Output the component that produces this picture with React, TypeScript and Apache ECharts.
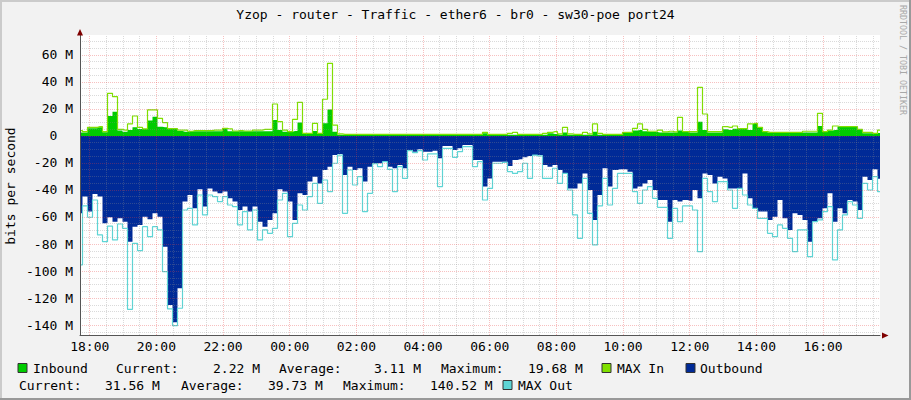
import React, { useEffect, useRef } from "react";
import * as echarts from "echarts";

// time of first sample (hours since midnight of day 1) and sample spacing (hours)
const startHour = 17.7083;
const stepHours = 0.15;

// Inbound average (M bits/s)
const inbound = [
  2.5, 2.5, 5.7, 5.7, 6.4, 2.7, 14.8, 18.0, 4.0, 3.2,
  4.4, 6.4, 5.2, 5.2, 11.4, 14.3, 6.9, 6.4, 5.4, 5.4,
  3.7, 3.2, 3.5, 3.5, 3.5, 3.5, 3.5, 3.5, 3.5, 5.7,
  3.5, 3.5, 3.5, 3.5, 3.5, 3.5, 3.5, 3.5, 3.5, 11.9,
  4.4, 3.2, 3.2, 3.7, 9.9, 2.0, 2.0, 3.7, 1.5, 9.4,
  19.68, 3.2, 1.0, 1.0, 1.0, 1.0, 1.0, 1.0, 1.0, 1.0,
  1.0, 1.0, 1.0, 1.0, 1.0, 1.0, 1.0, 1.0, 1.0, 1.0,
  1.0, 1.0, 1.0, 1.0, 1.0, 1.0, 1.0, 1.0, 1.0, 1.0,
  1.0, 2.0, 1.0, 1.0, 1.0, 1.0, 1.0, 1.0, 1.0, 1.0,
  1.0, 1.0, 1.0, 1.0, 2.0, 1.5, 1.0, 2.5, 1.0, 1.0,
  1.0, 1.0, 1.0, 3.2, 1.0, 1.0, 1.0, 1.0, 1.0, 2.5,
  2.7, 4.0, 4.4, 3.5, 3.0, 3.0, 2.5, 2.5, 2.5, 2.5,
  4.0, 3.0, 2.5, 2.5, 10.6, 4.4, 2.5, 2.5, 2.5, 4.9,
  4.4, 5.4, 5.4, 5.4, 4.4, 8.9, 6.4, 3.2, 2.5, 2.5,
  2.5, 2.5, 2.5, 2.5, 2.5, 2.5, 2.5, 2.5, 7.4, 3.2,
  4.0, 4.4, 6.9, 6.9, 6.9, 6.9, 4.9, 2.0, 2.0, 1.5,
  2.22,
];

// MAX In (M bits/s)
const maxIn = [
  4.0, 3.2, 6.4, 6.4, 6.9, 3.2, 31.6, 29.1, 4.9, 4.4,
  8.9, 14.8, 6.4, 5.2, 19.3, 19.3, 13.1, 9.9, 5.4, 5.4,
  4.4, 4.4, 3.5, 4.0, 4.0, 4.0, 4.0, 4.4, 4.4, 5.7,
  5.2, 3.7, 4.0, 3.7, 3.7, 4.4, 4.4, 4.9, 4.9, 23.7,
  10.6, 4.4, 3.2, 12.3, 24.9, 2.0, 2.0, 9.4, 2.0, 27.2,
  53.8, 8.1, 1.5, 1.2, 1.2, 1.2, 1.2, 1.2, 1.2, 1.2,
  1.2, 1.2, 1.2, 1.2, 1.2, 1.2, 1.2, 1.2, 1.2, 1.2,
  1.2, 1.2, 1.2, 1.2, 1.2, 1.2, 1.2, 1.2, 1.2, 1.2,
  1.2, 2.7, 1.2, 1.2, 1.2, 1.2, 2.0, 2.7, 1.2, 1.2,
  1.2, 1.2, 1.2, 2.0, 2.7, 3.2, 1.5, 6.4, 1.5, 1.2,
  1.2, 2.7, 1.5, 8.9, 2.0, 1.2, 1.2, 1.2, 1.2, 2.7,
  2.7, 5.7, 8.9, 4.9, 3.5, 3.5, 4.4, 3.0, 3.5, 3.0,
  13.8, 3.2, 3.2, 3.2, 36.0, 16.3, 3.2, 3.2, 3.2, 6.9,
  6.4, 7.4, 5.4, 5.4, 8.9, 9.4, 6.4, 3.2, 2.7, 2.7,
  2.7, 2.7, 2.7, 2.7, 2.7, 3.5, 3.5, 3.5, 16.8, 3.2,
  4.4, 7.4, 6.9, 6.9, 6.9, 6.9, 4.9, 2.7, 2.7, 2.0,
  4.4,
];

// Outbound average (negative, M bits/s)
const outbound = [
  -57.3, -44.9, -56.0, -43.0, -44.9, -64.7, -60.2, -63.5, -61.0, -63.5,
  -78.3, -67.2, -65.9, -59.8, -61.7, -57.3, -59.8, -82.0, -125.2, -138.0,
  -112.8, -48.6, -43.7, -53.6, -39.5, -52.3, -38.8, -41.2, -42.5, -41.2,
  -46.2, -48.6, -54.8, -52.3, -56.0, -52.3, -63.5, -67.2, -62.2, -57.3,
  -39.5, -41.2, -48.6, -62.2, -42.5, -43.7, -33.8, -30.1, -35.1, -25.2,
  -22.7, -14.1, -13.3, -28.9, -22.7, -25.2, -23.9, -33.8, -22.7, -20.2,
  -20.2, -19.0, -22.7, -23.9, -21.5, -23.9, -10.4, -11.6, -9.9, -11.6,
  -11.6, -10.9, -16.5, -7.4, -7.4, -10.4, -9.1, -6.7, -6.7, -17.8,
  -17.8, -37.5, -31.4, -19.0, -19.0, -19.0, -22.2, -17.8, -17.3, -15.8,
  -14.8, -14.1, -14.1, -21.5, -22.7, -21.5, -25.2, -27.7, -38.8, -38.8,
  -35.1, -27.7, -40.0, -62.2, -43.7, -23.9, -37.5, -25.2, -24.7, -24.7,
  -26.4, -38.8, -37.5, -35.1, -32.6, -40.0, -47.4, -47.4, -63.5, -47.4,
  -48.6, -47.4, -47.9, -40.0, -46.2, -27.7, -28.9, -35.1, -30.1, -31.4,
  -38.8, -38.8, -38.8, -27.7, -46.2, -53.6, -56.0, -56.0, -62.2, -59.8,
  -47.4, -61.0, -69.6, -57.3, -58.5, -62.2, -78.3, -63.5, -61.0, -53.6,
  -42.5, -63.5, -53.6, -57.3, -47.4, -48.6, -54.8, -30.1, -32.6, -24.7,
  -31.6,
];

// MAX Out (negative, M bits/s)
const maxOut = [
  -95.5, -51.8, -60.2, -47.4, -73.3, -78.3, -66.7, -77.0, -65.2, -68.4,
  -128.4, -79.5, -84.9, -67.2, -74.6, -67.2, -69.6, -100.5, -128.0, -140.5,
  -127.6, -54.8, -53.6, -65.9, -43.7, -58.5, -43.7, -44.9, -48.6, -44.9,
  -51.1, -52.3, -65.9, -56.0, -69.6, -54.8, -77.0, -69.6, -72.1, -68.4,
  -47.4, -42.5, -74.6, -64.7, -51.1, -54.8, -44.9, -35.1, -49.9, -32.6,
  -41.2, -20.2, -14.1, -57.3, -25.2, -36.3, -30.1, -56.0, -42.5, -20.5,
  -22.7, -19.0, -24.7, -41.2, -22.7, -31.4, -10.9, -12.3, -10.9, -17.8,
  -13.3, -13.3, -37.5, -9.1, -9.1, -15.8, -11.6, -7.9, -7.9, -22.7,
  -19.0, -47.4, -38.8, -20.2, -20.2, -19.5, -26.4, -27.7, -26.4, -20.2,
  -31.4, -14.1, -14.8, -31.4, -31.4, -23.9, -35.1, -27.7, -40.0, -58.5,
  -75.8, -31.4, -57.3, -80.7, -51.8, -31.4, -51.1, -38.8, -27.7, -27.7,
  -27.7, -41.2, -49.9, -40.0, -37.5, -46.2, -52.8, -52.8, -75.8, -53.6,
  -63.5, -51.8, -51.8, -54.8, -85.7, -31.4, -41.2, -48.6, -33.8, -33.8,
  -40.0, -53.6, -38.8, -43.7, -51.1, -53.6, -61.0, -61.0, -72.1, -74.6,
  -65.9, -68.4, -75.8, -85.7, -69.6, -69.6, -89.4, -63.5, -62.2, -56.0,
  -52.3, -91.8, -69.6, -58.5, -48.6, -51.1, -61.0, -35.1, -40.0, -30.1,
  -41.2,
];

// axis ticks
const xTickHours = [18, 20, 22, 24, 26, 28, 30, 32, 34, 36, 38, 40];
const xMinorStep = 0.5;
const yTickValues = [-140, -120, -100, -80, -60, -40, -20, 0, 20, 40, 60];
const yMinorStep = 5;
const yMin = -147.4;
const yMax = 74.8;

// legend texts
const legendRow1 = [
  { text: "Inbound", x: 33 },
  { text: "Current:", x: 116 },
  { text: "2.22 M", x: 213 },
  { text: "Average:", x: 279 },
  { text: "3.11 M", x: 374 },
  { text: "Maximum:", x: 441 },
  { text: "19.68 M", x: 528 },
  { text: "MAX In", x: 617 },
  { text: "Outbound", x: 700 },
];
const legendRow2 = [
  { text: "Current:", x: 19 },
  { text: "31.56 M", x: 105 },
  { text: "Average:", x: 181 },
  { text: "39.73 M", x: 268 },
  { text: "Maximum:", x: 343 },
  { text: "140.52 M", x: 430 },
  { text: "MAX Out", x: 518 },
];

const C_IN = "#00CC00";
const C_MAXIN = "#80E000";
const C_OUT = "#002A97";
const C_MAXOUT = "#5ED5D5";
const FONT = "DejaVu Sans Mono";

export default function App() {
  const ref = useRef<HTMLDivElement>(null);

  useEffect(() => {
    const chart = echarts.init(ref.current!, null, { renderer: "svg" });
    const pts = (arr: number[]) => arr.map((v, i) => [startHour + i * stepHours, v]);

    const xMin = startHour;
    const xMax = startHour + 24;
    const xMinor: number[] = [];
    for (let h = Math.ceil(xMin / xMinorStep) * xMinorStep; h < xMax; h += xMinorStep) {
      if (xTickHours.indexOf(h) < 0) xMinor.push(h);
    }
    const yMinor: number[] = [];
    for (let v = Math.ceil(yMin / yMinorStep) * yMinorStep; v < yMax; v += yMinorStep) {
      if (yTickValues.indexOf(v) < 0) yMinor.push(v);
    }
    const minorStyle = { color: "rgba(140,140,140,0.32)", width: 1, type: [1, 1] as any };
    const majorStyle = { color: "rgba(230,60,60,0.32)", width: 1, type: [1, 1] as any };
    const gridLines: any[] = [];
    xMinor.forEach((v) => gridLines.push({ xAxis: v, lineStyle: minorStyle }));
    yMinor.forEach((v) => gridLines.push({ yAxis: v, lineStyle: minorStyle }));
    xTickHours.forEach((v) => gridLines.push({ xAxis: v, lineStyle: majorStyle }));
    yTickValues.forEach((v) => gridLines.push({ yAxis: v, lineStyle: majorStyle }));

    const legendTexts: any[] = [];
    legendRow1.forEach((t) =>
      legendTexts.push({
        type: "text", x: t.x, y: 368,
        style: { text: t.text, font: `13px "${FONT}"`, fill: "#000", verticalAlign: "middle" },
      })
    );
    legendRow2.forEach((t) =>
      legendTexts.push({
        type: "text", x: t.x, y: 385,
        style: { text: t.text, font: `13px "${FONT}"`, fill: "#000", verticalAlign: "middle" },
      })
    );
    const box = (x: number, y: number, color: string) => ({
      type: "rect", shape: { x, y, width: 9, height: 9 },
      style: { fill: color, stroke: "#333", lineWidth: 1 },
    });

    const option: any = {
      animation: false,
      backgroundColor: "#F2F2F2",
      grid: { left: 80, right: 31, top: 35, bottom: 65, show: true, backgroundColor: "#FFFFFF", borderWidth: 0 },
      xAxis: {
        type: "value", min: xMin, max: xMax, z: 5,
        splitLine: { show: false }, axisTick: { show: false },
        axisLine: { show: true, onZero: false, lineStyle: { color: "#555", width: 1 } },
        axisLabel: {
          customValues: xTickHours, margin: 5, color: "#000", fontFamily: FONT, fontSize: 13,
          formatter: (v: number) => {
            const h = Math.round(v) % 24;
            return (h < 10 ? "0" : "") + h + ":00";
          },
        },
      },
      yAxis: {
        type: "value", min: yMin, max: yMax, z: 5,
        splitLine: { show: false }, axisTick: { show: false },
        axisLine: { show: true, onZero: false, lineStyle: { color: "#555", width: 1 } },
        axisLabel: {
          customValues: yTickValues, margin: 7, color: "#000", fontFamily: FONT, fontSize: 13,
          formatter: (v: number) => (v === 0 ? "0\u00A0\u00A0" : `${v} M`),
        },
      },
      series: [
        {
          name: "Outbound", type: "line", step: "middle", data: pts(outbound), symbol: "none",
          lineStyle: { width: 0 }, areaStyle: { color: C_OUT, opacity: 1 }, z: 2,
        },
        {
          name: "Inbound", type: "line", step: "middle", data: pts(inbound), symbol: "none",
          lineStyle: { width: 0 }, areaStyle: { color: C_IN, opacity: 1 }, z: 2,
        },
        {
          name: "MAX In", type: "line", step: "middle", data: pts(maxIn), symbol: "none",
          lineStyle: { width: 1.2, color: C_MAXIN }, z: 3,
        },
        {
          name: "MAX Out", type: "line", step: "middle", data: pts(maxOut), symbol: "none",
          lineStyle: { width: 1.2, color: C_MAXOUT }, z: 3,
        },
        {
          name: "grid", type: "line", data: [], z: 4, silent: true,
          markLine: { silent: true, symbol: ["none", "none"], label: { show: false }, animation: false, data: gridLines },
        },
      ],
      graphic: [
        { type: "rect", shape: { x: 0, y: 0, width: 911, height: 2 }, style: { fill: "#CBCBCB" } },
        { type: "rect", shape: { x: 0, y: 0, width: 2, height: 400 }, style: { fill: "#CBCBCB" } },
        { type: "rect", shape: { x: 0, y: 398, width: 911, height: 2 }, style: { fill: "#999999" } },
        { type: "rect", shape: { x: 909, y: 0, width: 2, height: 400 }, style: { fill: "#999999" } },
        {
          type: "text", x: 455.5, y: 14.5,
          style: { text: "Yzop - router - Traffic - ether6 - br0 - sw30-poe port24", font: `13px "${FONT}"`, fill: "#000", align: "center", verticalAlign: "middle" },
        },
        {
          type: "text", x: 10, y: 186, rotation: Math.PI / 2,
          style: { text: "bits per second", font: `13px "${FONT}"`, fill: "#000", align: "center", verticalAlign: "middle" },
        },
        {
          type: "text", x: 903, y: 60, rotation: -Math.PI / 2,
          style: { text: "RRDTOOL / TOBI OETIKER", font: `8.3px "${FONT}"`, fill: "#A8A8A8", align: "center", verticalAlign: "middle" },
        },
        { type: "polygon", shape: { points: [[77, 35.5], [83, 35.5], [80, 29]] }, style: { fill: "#7F0000" }, z: 10 },
        { type: "polygon", shape: { points: [[882, 332.5], [882, 338.5], [888.5, 335.5]] }, style: { fill: "#7F0000" }, z: 10 },
        box(18, 363.5, C_IN),
        box(602, 363.5, C_MAXIN),
        box(686, 363.5, C_OUT),
        box(503, 380.5, C_MAXOUT),
        ...legendTexts,
      ],
    };
    chart.setOption(option);
    return () => chart.dispose();
  }, []);

  return <div ref={ref} style={{ position: "fixed", left: 0, top: 0, width: 911, height: 400 }} />;
}
